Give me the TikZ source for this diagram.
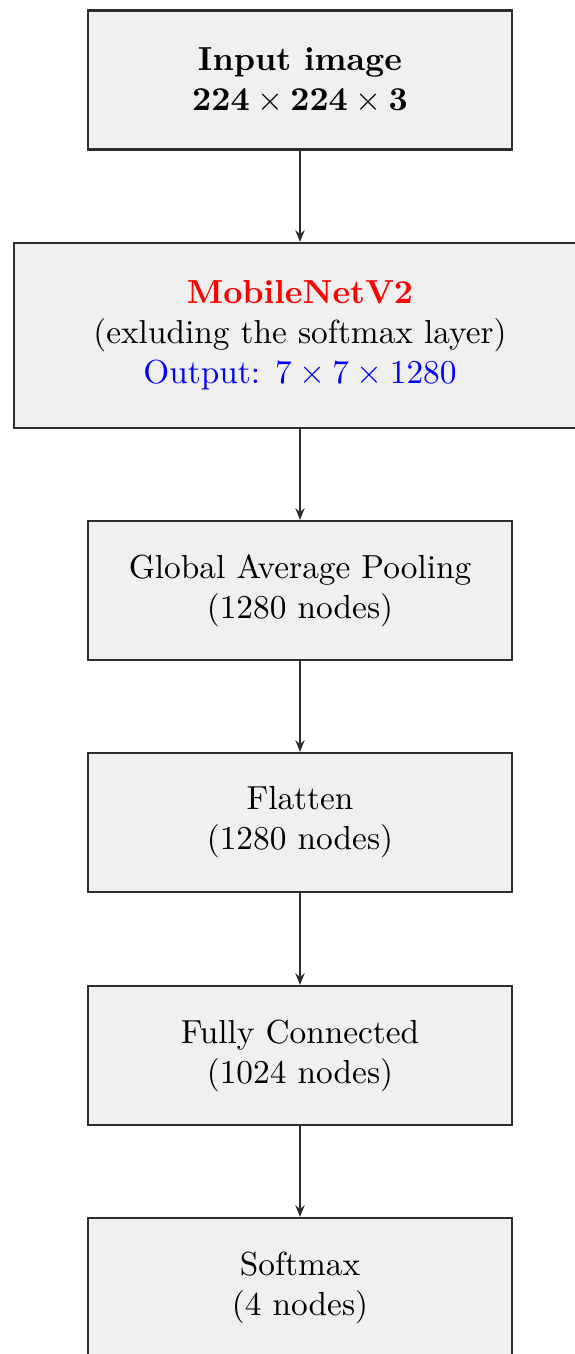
\documentclass[tikz,border=0pt]{standalone}
\usetikzlibrary{arrows.meta}
\definecolor{boxfill}{RGB}{240,240,240}
\definecolor{boxdraw}{RGB}{45,45,45}
\begin{document}
\begin{tikzpicture}[x=0.3pt,y=-0.3pt,
  layer/.style={draw=boxdraw, fill=boxfill, line width=0.65pt, align=center,
    minimum width=127.2pt, minimum height=41.7pt, inner sep=0pt},
  widelayer/.style={layer, minimum width=171.6pt, minimum height=55.5pt},
  conn/.style={-{Stealth[length=3.5pt,width=2.8pt]}, line width=0.45pt, draw=boxdraw}]
\useasboundingbox (0,0) rectangle (574,1354);
\node[layer] (in) at (300,80) {\textbf{Input image}\\ $\mathbf{224}\times\mathbf{224}\times\mathbf{3}$};
\node[widelayer] (mb) at (300,335.5) {\textcolor{red}{\textbf{MobileNetV2}}\\ (exluding the softmax layer)\\ \textcolor{blue}{Output: $7\times7\times1280$}};
\node[layer] (gap) at (300,590.5) {Global Average Pooling\\ (1280 nodes)};
\node[layer] (fl) at (300,822.5) {Flatten\\ (1280 nodes)};
\node[layer] (fc) at (300,1055.5) {Fully Connected\\ (1024 nodes)};
\node[layer] (sm) at (300,1287.5) {Softmax\\ (4 nodes)};
\draw[conn] (in) -- (mb);
\draw[conn] (mb) -- (gap);
\draw[conn] (gap) -- (fl);
\draw[conn] (fl) -- (fc);
\draw[conn] (fc) -- (sm);
\end{tikzpicture}
\end{document}
